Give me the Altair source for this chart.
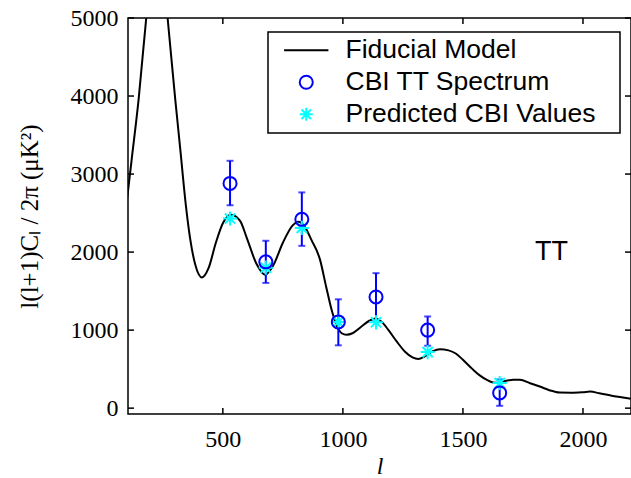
import altair as alt
import pandas as pd

# ---- data ----
ell_model = [100, 120, 149, 181, 205, 230, 255, 270, 302, 323, 346, 365, 385, 413, 440, 470, 500, 535,
             572, 600, 640, 676, 710, 750, 790, 815, 840, 870, 905, 930, 953, 975, 995, 1015, 1040,
             1075, 1110, 1135, 1160, 1190, 1224, 1260, 1290, 1314, 1340, 1375, 1404, 1440, 1470,
             1500, 1540, 1570, 1598, 1625, 1650, 1680, 1710, 1737, 1780, 1820, 1860, 1903, 1950,
             2000, 2030, 2069, 2120, 2160, 2200]
cl_model = [2650, 3180, 3950, 5000, 5650, 5850, 5500, 5000, 3950, 3310, 2600, 2150, 1840, 1675, 1790,
            2110, 2370, 2480, 2400, 2180, 1850, 1710, 1830, 2120, 2340, 2390, 2330, 2150, 1900, 1560,
            1260, 1050, 960, 940, 960, 1040, 1120, 1150, 1110, 1000, 855, 720, 650, 630, 660, 730,
            755, 740, 700, 620, 500, 420, 365, 330, 325, 350, 365, 363, 320, 277, 230, 200, 198,
            205, 212, 190, 160, 140, 120]

ell_cbi = [530, 679, 829, 981, 1138, 1353, 1653]
cl_cbi = [2880, 1875, 2420, 1105, 1425, 1000, 195]
err_lo = [2600, 1605, 2080, 805, 1120, 800, 30]
err_hi = [3170, 2145, 2765, 1395, 1730, 1175, 368]
cl_pred = [2430, 1800, 2310, 1105, 1100, 718, 322]

y_ticks = [0, 1000, 2000, 3000, 4000, 5000]
x_ticks = [500, 1000, 1500, 2000]

series_names = ["Fiducial Model", "CBI TT Spectrum", "Predicted CBI Values"]
series_colors = ["#000000", "#0000ff", "#00ffff"]

# ---- tables ----
df_model = pd.DataFrame({"ell": ell_model, "val": cl_model, "series": series_names[0]})
df_cbi = pd.DataFrame({"ell": ell_cbi, "val": cl_cbi, "lo": err_lo, "hi": err_hi,
                       "series": series_names[1]})
df_pred = pd.DataFrame({"ell": ell_cbi, "val": cl_pred, "series": series_names[2]})
df_yt = pd.DataFrame({"val": y_ticks})
df_xt = pd.DataFrame({"ell": x_ticks})
df_lab = pd.DataFrame({"ell": [1869], "val": [2000], "txt": ["TT"]})

W, H = 503, 396
SERIF = "Liberation Serif"

line_path = "M-3.4,0H3.4"
star_path = "M0,-1V1M-1,0H1M-0.72,-0.72L0.72,0.72M-0.72,0.72L0.72,-0.72"

xscale = alt.Scale(domain=[105, 2200], nice=False, zero=False)
yscale = alt.Scale(domain=[-75, 5000], nice=False, zero=False)
xaxis = alt.Axis(values=x_ticks, format="d", title="l", titleFontStyle="italic",
                 labelFont=SERIF, titleFont=SERIF, labelPadding=13, titlePadding=3)
yaxis = alt.Axis(values=y_ticks, format="d", title="l(l+1)Cₗ / 2π (μK²)",
                 labelFont=SERIF, titleFont=SERIF, labelPadding=10, titlePadding=28,
                 titleFontSize=25)


def X(field="ell"):
    return alt.X(f"{field}:Q", scale=xscale, axis=xaxis)


def Y(field="val"):
    return alt.Y(f"{field}:Q", scale=yscale, axis=yaxis)


legend = alt.Legend(title="\u00a0", titleOrient="right", titleFontSize=12, titlePadding=20,
                    orient="none", legendX=140, legendY=14, labelLimit=500)
stroke_enc = alt.Stroke("series:N", scale=alt.Scale(domain=series_names, range=series_colors),
                        legend=legend)
shape_enc = alt.Shape("series:N", scale=alt.Scale(domain=series_names,
                                                  range=[line_path, "circle", star_path]),
                      legend=legend)

model = alt.Chart(df_model).mark_line(strokeWidth=2, clip=True, interpolate="monotone").encode(
    x=X(), y=Y(), stroke=stroke_enc)

err = alt.Chart(df_cbi).mark_rule(color="#0000ff", strokeWidth=2).encode(
    x=X(), y=Y("lo"), y2="hi:Q")
cap_lo = alt.Chart(df_cbi).mark_tick(color="#0000ff", thickness=2, size=7,
                                     orient="horizontal").encode(x=X(), y=Y("lo"))
cap_hi = alt.Chart(df_cbi).mark_tick(color="#0000ff", thickness=2, size=7,
                                     orient="horizontal").encode(x=X(), y=Y("hi"))

circles = alt.Chart(df_cbi).mark_point(filled=False, size=170, strokeWidth=2, opacity=1).encode(
    x=X(), y=Y(), stroke=stroke_enc, shape=shape_enc)

stars = alt.Chart(df_pred).mark_point(filled=False, size=200, strokeWidth=2, opacity=1).encode(
    x=X(), y=Y(), stroke=stroke_enc, shape=shape_enc)

tick_left = alt.Chart(df_yt).mark_rule(color="black", strokeWidth=1.5).encode(
    y=Y(), x=alt.value(0), x2=alt.value(6))
tick_right = alt.Chart(df_yt).mark_rule(color="black", strokeWidth=1.5).encode(
    y=Y(), x=alt.value(W - 6), x2=alt.value(W))
tick_bot = alt.Chart(df_xt).mark_rule(color="black", strokeWidth=1.5).encode(
    x=X(), y=alt.value(H - 6), y2=alt.value(H))
tick_top = alt.Chart(df_xt).mark_rule(color="black", strokeWidth=1.5).encode(
    x=X(), y=alt.value(0), y2=alt.value(6))

tt = alt.Chart(df_lab).mark_text(font="Liberation Sans", fontSize=27, color="black",
                                 align="center", baseline="middle").encode(
    x=X(), y=Y(), text="txt:N")

chart = alt.layer(model, err, cap_lo, cap_hi, stars, circles, tt,
                  tick_left, tick_right, tick_bot, tick_top).properties(
    width=W, height=H,
    padding={"left": 128, "top": 18, "right": 0, "bottom": 64},
    autosize=alt.AutoSizeParams(type="none"),
    background="white",
).configure_view(
    stroke="black", strokeWidth=1.5
).configure_axis(
    grid=False, ticks=False, tickSize=0, domain=False,
    labelFont=SERIF, labelFontSize=24, labelColor="black",
    titleFont=SERIF, titleFontSize=24, titleColor="black", titleFontWeight="normal",
).configure_legend(
    labelFont="Liberation Sans", labelFontSize=26.5, labelColor="black",
    strokeColor="black", strokeWidth=1.5, fillColor="white", padding=5,
    symbolSize=170, symbolStrokeWidth=2, symbolFillColor="transparent",
    symbolOffset=20, labelOffset=26, rowPadding=5,
)

chart.save("out.html", embed_options={"renderer": "svg", "actions": False})
